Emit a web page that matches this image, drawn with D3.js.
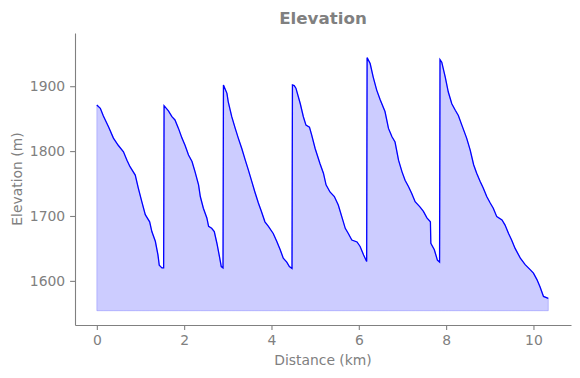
<!DOCTYPE html>
<html>
<head>
<meta charset="utf-8">
<script src="https://cdn.jsdelivr.net/npm/d3@7"></script>
<style>
  body { margin: 0; background: #fff; }
  text { font-family: "DejaVu Sans", sans-serif; }
</style>
</head>
<body>
<svg id="chart" width="580" height="378"></svg>
<script>
// elevation profile
const distanceKm = [
  0, 0.08, 0.15, 0.27, 0.38, 0.49, 0.61, 0.69, 0.76, 0.88, 0.95, 1.03, 1.11, 1.21, 1.26, 1.34, 1.40, 1.43, 1.49, 1.53,
  1.54, 1.64, 1.72, 1.79, 1.87, 1.95, 2.02, 2.10, 2.18, 2.25, 2.33, 2.37, 2.44, 2.52, 2.56, 2.63, 2.69, 2.75, 2.81, 2.85, 2.89,
  2.90, 2.98, 3.01, 3.09, 3.17, 3.24, 3.32, 3.40, 3.47, 3.55, 3.62, 3.70, 3.77, 3.85, 3.93, 4.04, 4.12, 4.20, 4.27, 4.35, 4.41, 4.47,
  4.48, 4.52, 4.56, 4.66, 4.73, 4.79, 4.87, 4.92, 5.00, 5.11, 5.19, 5.25, 5.34, 5.44, 5.53, 5.61, 5.69, 5.76, 5.84, 5.96, 6.03, 6.11, 6.18,
  6.19, 6.26, 6.33, 6.41, 6.49, 6.60, 6.68, 6.76, 6.83, 6.91, 6.99, 7.06, 7.14, 7.21, 7.29, 7.40, 7.48, 7.56, 7.64, 7.65, 7.73, 7.80, 7.85,
  7.86, 7.90, 7.98, 8.05, 8.13, 8.21, 8.28, 8.36, 8.47, 8.55, 8.63, 8.70, 8.78, 8.85, 8.93, 9.01, 9.08, 9.16, 9.28, 9.35, 9.43, 9.50,
  9.58, 9.70, 9.81, 9.93, 10.00, 10.08, 10.15, 10.23, 10.34
]
const elevationM = [
  1871, 1866, 1854, 1837, 1820, 1809, 1799, 1786, 1776, 1763, 1743, 1722, 1702, 1691, 1676, 1661, 1640, 1624, 1620, 1620,
  1870, 1862, 1853, 1848, 1835, 1820, 1809, 1794, 1784, 1768, 1748, 1730, 1712, 1697, 1684, 1681, 1676, 1658, 1637, 1622, 1620,
  1902, 1889, 1876, 1853, 1835, 1820, 1804, 1786, 1771, 1753, 1737, 1720, 1707, 1691, 1684, 1673, 1661, 1648, 1635, 1629, 1622, 1619,
  1902, 1901, 1897, 1873, 1853, 1840, 1837, 1825, 1804, 1781, 1766, 1748, 1737, 1730, 1717, 1699, 1681, 1673, 1663, 1660, 1653, 1640, 1630,
  1944, 1935, 1914, 1894, 1879, 1861, 1835, 1822, 1814, 1786, 1768, 1755, 1745, 1735, 1722, 1714, 1707, 1697, 1691, 1658, 1648, 1632, 1629,
  1941, 1937, 1914, 1891, 1873, 1863, 1855, 1840, 1820, 1802, 1779, 1766, 1753, 1743, 1730, 1720, 1712, 1699, 1694, 1686, 1673, 1663,
  1650, 1635, 1625, 1617, 1612, 1602, 1591, 1576, 1573
]
const fillBase = 1554
const xTicks = [0, 2, 4, 6, 8, 10]
const yTicks = [1600, 1700, 1800, 1900]

const margin = { top: 33, right: 9, bottom: 53, left: 75 }
const width = 580, height = 378
const grey = "#808080"

const svg = d3.select("#chart")
const data = distanceKm.map((d, i) => ({ x: d, y: elevationM[i] }))

const x = d3.scaleLinear().domain([-0.5, 10.86]).range([margin.left, width - margin.right])
const y = d3.scaleLinear().domain([1532, 1982]).range([height - margin.bottom, margin.top])

// filled area under the profile
svg.append("path")
  .datum(data)
  .attr("d", d3.area().x(d => x(d.x)).y0(y(fillBase)).y1(d => y(d.y)))
  .attr("fill", "blue")
  .attr("fill-opacity", 0.2)
  .attr("stroke", "blue")
  .attr("stroke-opacity", 0.2)
  .attr("stroke-width", 1)

svg.append("path")
  .datum(data)
  .attr("d", d3.line().x(d => x(d.x)).y(d => y(d.y)))
  .attr("fill", "none")
  .attr("stroke", "blue")
  .attr("stroke-width", 1.3)

const tick = 4.9

const gx = svg.append("g")
  .attr("transform", `translate(0,${height - margin.bottom})`)
  .call(d3.axisBottom(x).tickValues(xTicks).tickSize(tick).tickSizeOuter(0).tickPadding(tick).tickFormat(d3.format("d")))

const gy = svg.append("g")
  .attr("transform", `translate(${margin.left},0)`)
  .call(d3.axisLeft(y).tickValues(yTicks).tickSize(tick).tickSizeOuter(0).tickPadding(tick).tickFormat(d3.format("d")))

;[gx, gy].forEach(g => {
  g.select(".domain").attr("stroke", grey).attr("stroke-width", 1.1)
  g.selectAll(".tick line").attr("stroke", grey).attr("stroke-width", 1.1)
  g.selectAll(".tick text")
    .attr("fill", grey)
    .attr("font-size", "13.9px")
    .attr("font-family", "DejaVu Sans, sans-serif")
})

svg.append("text")
  .attr("x", (margin.left + width - margin.right) / 2)
  .attr("y", 24)
  .attr("text-anchor", "middle")
  .attr("font-size", "16.7px")
  .attr("font-weight", "bold")
  .attr("fill", grey)
  .text("Elevation")

svg.append("text")
  .attr("x", (margin.left + width - margin.right) / 2)
  .attr("y", 365)
  .attr("text-anchor", "middle")
  .attr("font-size", "13.9px")
  .attr("fill", grey)
  .text("Distance (km)")

svg.append("text")
  .attr("transform", `translate(22,${(margin.top + height - margin.bottom) / 2}) rotate(-90)`)
  .attr("text-anchor", "middle")
  .attr("font-size", "13.9px")
  .attr("fill", grey)
  .text("Elevation (m)")
</script>
</body>
</html>
